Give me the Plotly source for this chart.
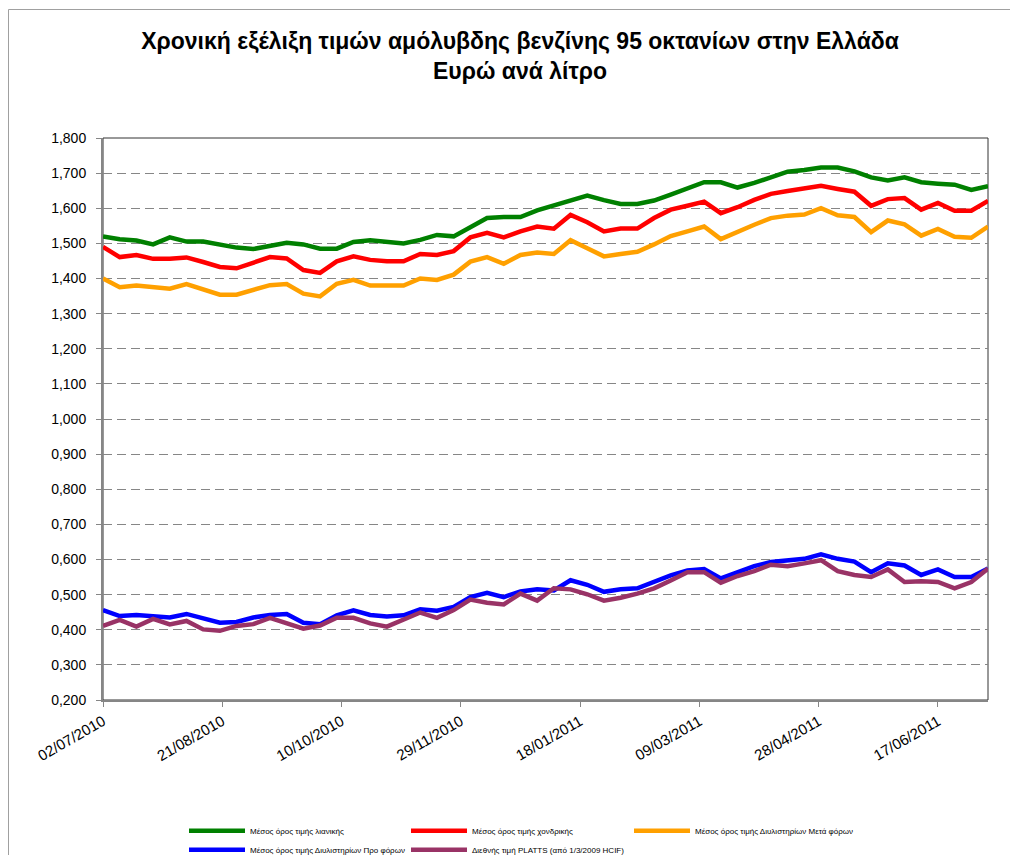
import pandas as pd
import plotly.graph_objects as go

start_date = "2010-07-02"
n_weeks = 54
dates = pd.date_range(start_date, periods=n_weeks, freq="7D")

retail = [1.520, 1.512, 1.508, 1.497, 1.517, 1.505, 1.505, 1.497, 1.488, 1.484,
          1.493, 1.502, 1.497, 1.485, 1.485, 1.504, 1.509, 1.505, 1.500, 1.510,
          1.524, 1.520, 1.545, 1.572, 1.575, 1.575, 1.594, 1.609, 1.624, 1.636,
          1.623, 1.612, 1.612, 1.622, 1.639, 1.657, 1.674, 1.674, 1.659, 1.672,
          1.689, 1.704, 1.709, 1.716, 1.716, 1.705, 1.688, 1.679, 1.688, 1.674,
          1.670, 1.667, 1.652, 1.663]

wholesale = [1.490, 1.461, 1.467, 1.456, 1.456, 1.460, 1.447, 1.433, 1.429, 1.446,
             1.461, 1.457, 1.424, 1.416, 1.449, 1.463, 1.453, 1.449, 1.449, 1.470,
             1.467, 1.478, 1.517, 1.530, 1.517, 1.534, 1.548, 1.542, 1.581, 1.560,
             1.534, 1.542, 1.542, 1.572, 1.596, 1.607, 1.619, 1.586, 1.603, 1.624,
             1.641, 1.649, 1.657, 1.664, 1.655, 1.647, 1.607, 1.626, 1.629, 1.596,
             1.615, 1.593, 1.593, 1.621]

refinery_after_tax = [1.400, 1.375, 1.380, 1.377, 1.371, 1.384, 1.369, 1.354, 1.354, 1.369,
                      1.381, 1.384, 1.357, 1.349, 1.385, 1.396, 1.380, 1.380, 1.380, 1.400,
                      1.396, 1.411, 1.448, 1.461, 1.442, 1.467, 1.474, 1.470, 1.509, 1.486,
                      1.463, 1.470, 1.476, 1.497, 1.521, 1.534, 1.548, 1.512, 1.534, 1.553,
                      1.572, 1.579, 1.582, 1.600, 1.580, 1.575, 1.532, 1.565, 1.554, 1.522,
                      1.541, 1.519, 1.516, 1.548]

refinery_before_tax = [0.456, 0.439, 0.442, 0.439, 0.435, 0.445, 0.431, 0.420, 0.422, 0.435,
                       0.442, 0.445, 0.420, 0.416, 0.441, 0.455, 0.442, 0.438, 0.441, 0.458,
                       0.454, 0.465, 0.493, 0.505, 0.493, 0.509, 0.515, 0.512, 0.541, 0.528,
                       0.508, 0.515, 0.518, 0.536, 0.555, 0.569, 0.573, 0.546, 0.564, 0.581,
                       0.593, 0.598, 0.602, 0.615, 0.602, 0.594, 0.564, 0.589, 0.583, 0.556,
                       0.572, 0.550, 0.550, 0.574]

platts = [0.411, 0.428, 0.409, 0.431, 0.415, 0.425, 0.401, 0.397, 0.411, 0.416,
          0.434, 0.420, 0.403, 0.412, 0.434, 0.434, 0.418, 0.409, 0.430, 0.449,
          0.434, 0.456, 0.486, 0.477, 0.472, 0.503, 0.483, 0.518, 0.515, 0.501,
          0.483, 0.491, 0.503, 0.518, 0.540, 0.564, 0.564, 0.534, 0.553, 0.567,
          0.585, 0.581, 0.589, 0.598, 0.567, 0.556, 0.550, 0.572, 0.536, 0.538,
          0.536, 0.518, 0.536, 0.574]

series_names = [
    "Μέσος όρος τιμής λιανικής",
    "Μέσος όρος τιμής χονδρικής",
    "Μέσος όρος τιμής Διυλιστηρίων Μετά φόρων",
    "Μέσος όρος τιμής Διυλιστηρίων Προ φόρων",
    "Διεθνής τιμή PLATTS (από 1/3/2009 HCIF)",
]
series_values = [retail, wholesale, refinery_after_tax, refinery_before_tax, platts]
series_colors = ["#008000", "#FF0000", "#FFA000", "#0000FF", "#993366"]
# legend column for each series (reference legend: 3 columns x 2 rows)
series_legend = ["legend", "legend2", "legend3", "legend", "legend2"]

x_tick_dates = ["2010-07-02", "2010-08-21", "2010-10-10", "2010-11-29",
                "2011-01-18", "2011-03-09", "2011-04-28", "2011-06-17"]
x_tick_labels = ["02/07/2010", "21/08/2010", "10/10/2010", "29/11/2010",
                 "18/01/2011", "09/03/2011", "28/04/2011", "17/06/2011"]
y_ticks = [0.2 + 0.1 * k for k in range(17)]

fig = go.Figure()
for i, (name, vals, col, lg) in enumerate(zip(series_names, series_values,
                                              series_colors, series_legend)):
    fig.add_trace(go.Scatter(x=dates, y=vals, mode="lines", name=name,
                             legend=lg, legendgroup=f"g{i}",
                             line=dict(color=col, width=4.5)))

W, H = 1002, 847
L, R, T, B = 95, 22, 130, 155
PW, PH = W - L - R, H - T - B

legend_common = dict(orientation="v", yanchor="top", y=-0.2067, xanchor="left",
                     font=dict(size=8, family="Liberation Sans, Arial, sans-serif"),
                     tracegroupgap=0, itemwidth=56,
                     bgcolor="rgba(0,0,0,0)")

fig.update_layout(
    width=W, height=H,
    margin=dict(l=L, r=R, t=T, b=B, autoexpand=False),
    paper_bgcolor="white", plot_bgcolor="white",
    separators=",.",
    font=dict(family="Liberation Sans, Arial, sans-serif", color="black"),
    title=dict(
        text="<b>Χρονική εξέλιξη τιμών αμόλυβδης βενζίνης 95 οκτανίων στην Ελλάδα<br>Ευρώ ανά λίτρο</b>",
        x=0.511, xanchor="center", y=0.952, yanchor="middle",
        font=dict(size=23, family="Liberation Sans, Arial, sans-serif", color="black"),
    ),
    legend=dict(x=(190 - 6 - 8 - L) / PW, **legend_common),
    legend2=dict(x=(412 - 6 - 8 - L) / PW, **legend_common),
    legend3=dict(x=(635 - 6 - 8 - L) / PW, **legend_common),
    showlegend=True,
)

fig.update_xaxes(
    type="date", automargin=False,
    range=[dates[0], dates[-1]],
    tickvals=x_tick_dates, ticktext=x_tick_labels,
    tickangle=-30, tickfont=dict(size=15),
    ticks="outside", ticklen=5, tickcolor="#868686",
    showline=True, linecolor="#868686", linewidth=2,
    showgrid=False, zeroline=False,
)
fig.update_yaxes(
    automargin=False,
    range=[0.2, 1.8],
    tickvals=y_ticks, tickformat=".3f", tickfont=dict(size=14),
    ticks="outside", ticklen=5, tickcolor="#868686", ticklabelstandoff=7,
    showline=True, linecolor="#868686", linewidth=2,
    showgrid=True, gridcolor="#868686", gridwidth=1, griddash="9px,5px",
    zeroline=False,
)

# plot-area frame (top / right)
fig.add_shape(type="rect", xref="paper", yref="paper", x0=0, y0=0, x1=1, y1=1,
              line=dict(color="#333333", width=1), layer="below")
# chart border
fig.add_shape(type="rect", xref="paper", yref="paper",
              x0=(0.5 - L) / PW, y0=-(B + 10) / PH, x1=1.2, y1=1 + (T - 1.5) / PH,
              line=dict(color="#A0A0A0", width=1), layer="below")

fig.write_html("out.html")
